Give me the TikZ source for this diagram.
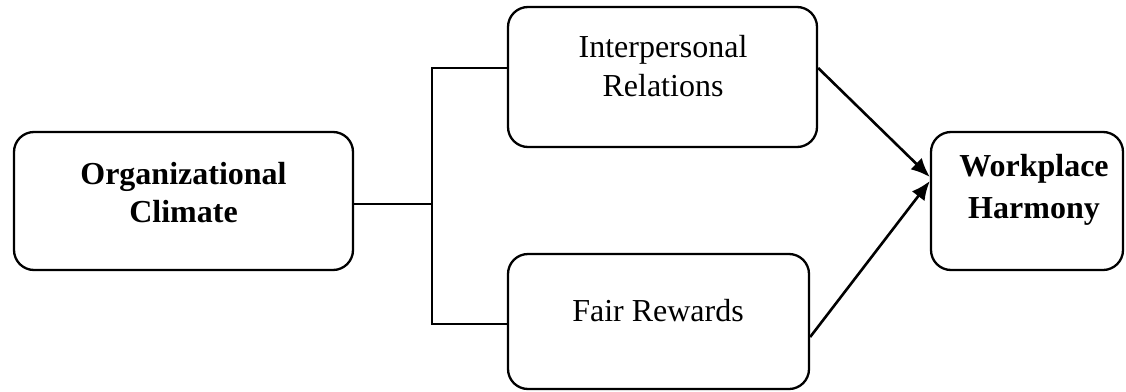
\documentclass[tikz,border=0pt]{standalone}
\usepackage{fontspec}
\setmainfont{Liberation Serif}
\usetikzlibrary{arrows.meta}
\begin{document}
\begin{tikzpicture}[x=1pt,y=-1pt,
  box/.style={draw, line width=2.3pt, rounded corners=20pt, inner sep=0pt},
  txt/.style={align=center, inner sep=0pt, font=\fontsize{32}{39}\selectfont},
  link/.style={line width=1.1pt},
  arr/.style={line width=2.6pt, -{Latex[length=19pt,width=16pt]}}]
\useasboundingbox (0,0) rectangle (1126,391);

% boxes
\node[box, minimum width=339pt, minimum height=138pt] (oc) at (183.5,201) {};
\node[box, minimum width=309pt, minimum height=140pt] (ir) at (662.5,77) {};
\node[box, minimum width=301pt, minimum height=135pt] (fr) at (658.5,321.5) {};
\node[box, minimum width=192pt, minimum height=138pt] (wh) at (1027,201) {};

% labels
\node[txt, font=\fontsize{32}{38}\selectfont\bfseries] (oct) at (183.5,193) {Organizational\\Climate};
\node[txt] (irt) at (663,66) {Interpersonal\\Relations};
\node[txt] (frt) at (658,311) {Fair Rewards};
\node[txt, font=\fontsize{32}{42}\selectfont\bfseries] (wht) at (1034,190) {Workplace\\Harmony};

% branching connector
\coordinate (jm) at (432,204);
\coordinate (jt) at (432,68);
\coordinate (jb) at (432,324);
\draw[link] (oc.east |- jm) -- (jm);
\draw[link] (ir.west |- jt) -- (jt) -- (jb) -- (fr.west |- jb);

% arrows into the outcome
\coordinate (ta) at (0,68);
\coordinate (tb) at (0,337);
\draw[arr] (ir.east |- ta) -- (wh.west |- 0,177);
\draw[arr] (fr.east |- tb) -- (wh.west |- 0,181);
\end{tikzpicture}
\end{document}
